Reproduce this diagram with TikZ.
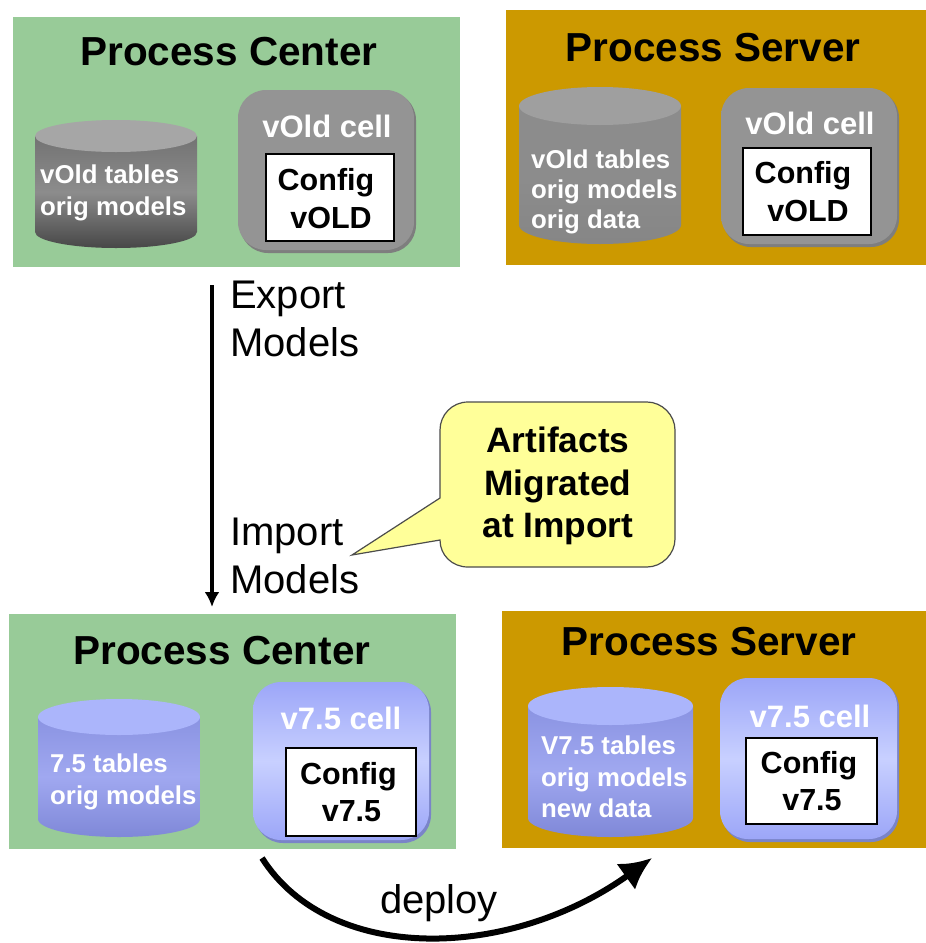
\documentclass[tikz,border=0pt]{standalone}
\usepackage{fontspec}
\setmainfont{Liberation Sans}
\usetikzlibrary{arrows.meta,calc}
\definecolor{pcgreen}{HTML}{98CB98}
\definecolor{psgold}{HTML}{CC9900}
\definecolor{noteyellow}{HTML}{FFFF99}
\definecolor{cellgrey}{HTML}{949494}
\definecolor{edgegrey}{HTML}{7E7E7E}
\definecolor{cellblueA}{HTML}{9CA6F8}
\definecolor{cellblueB}{HTML}{C8D0FF}
\definecolor{edgeblue}{HTML}{7A84C8}
\definecolor{lidblue}{HTML}{ABB5FB}
\definecolor{wallblueA}{HTML}{8A93E2}
\definecolor{wallblueB}{HTML}{A0A8F0}
\definecolor{wallblueC}{HTML}{7F88D8}
\newcommand{\bigbf}{\fontsize{40.5}{48}\selectfont\bfseries}
\newcommand{\plainlab}{\fontsize{40}{48}\selectfont}
\newcommand{\cellbf}{\fontsize{31}{38}\selectfont\bfseries}
\newcommand{\cfgbf}{\fontsize{30.5}{37.5}\selectfont\bfseries}
\newcommand{\cylbf}{\fontsize{25.8}{31.5}\selectfont\bfseries}
\newcommand{\notebf}{\fontsize{35.3}{42.5}\selectfont\bfseries}
\tikzset{
  x=1pt,y=-1pt,
  panel/.style={inner sep=0,outer sep=0},
  cfgbox/.style={fill=white,draw=black,line width=1.6pt,inner sep=0,outer sep=0},
  title/.style={font=\bigbf,text=black,inner sep=0},
  whitecell/.style={font=\cellbf,text=white,inner sep=0},
  cfgtext/.style={font=\cfgbf,text=black,align=center,inner sep=0},
  cyltext/.style={font=\cylbf,text=white,align=left,inner sep=0},
  lab/.style={font=\plainlab,text=black,align=left,inner sep=0,anchor=west},
}
% rectangle node from corners: name, style, x1,y1,x2,y2
\newcommand{\rectnode}[6]{%
  \pgfmathsetmacro{\rw}{#5-#3}\pgfmathsetmacro{\rh}{#6-#4}%
  \node[#2,minimum width=\rw pt,minimum height=\rh pt] (#1) at ({(#3+#5)/2},{(#4+#6)/2}) {};}
% cell: x1,y1,x2,y2, edge colour, top, middle, bottom
\newcommand{\cellshape}[8]{%
  \fill[#5,rounded corners=28pt] (#1+2,#2+2) rectangle (#3+2,#4+3);
  \shade[rounded corners=28pt,top color=#6,bottom color=#8,middle color=#7] (#1,#2) rectangle (#3,#4);}
% cylinder: x1, y of lid centre, x2, y of wall end, ry, lid, top, middle, bottom
\newcommand{\cylshape}[9]{%
  \pgfmathsetmacro{\rx}{(#3-#1)/2}%
  \shade[top color=#7,bottom color=#9,middle color=#8]
     (#1,#2) -- (#1,#4) arc[start angle=180,end angle=360,x radius=\rx pt,y radius=#5 pt]
     -- (#3,#2) -- cycle;
  \fill[#6] ({(#1+#3)/2},#2) ellipse[x radius=\rx pt,y radius=#5 pt];}
\begin{document}
\begin{tikzpicture}
\clip (0,0) rectangle (926,943);
\fill[white] (0,0) rectangle (926,943);
% panels
\rectnode{pc1}{panel,fill=pcgreen}{13}{17}{460}{267}
\rectnode{ps1}{panel,fill=psgold}{506}{10}{926}{265}
\rectnode{pc2}{panel,fill=pcgreen}{9}{614}{456}{849}
\rectnode{ps2}{panel,fill=psgold}{502}{611}{926}{848}
% titles
\node[title] (tpc1) at (229,52) {Process Center};
\node[title] (tps1) at (713,48) {Process Server};
\node[title] (tpc2) at (222,651) {Process Center};
\node[title] (tps2) at (709,642) {Process Server};
% cylinders
\cylshape{35}{136}{197}{232}{16}{gray!70!white}{gray!90!black}{gray!90!white}{black!72!white}
\cylshape{519}{106}{681}{225}{19}{gray!75!white}{gray!90!white}{gray!90!white}{gray!95!white}
\cylshape{38}{717}{200}{819}{18}{lidblue}{wallblueA}{wallblueB}{wallblueC}
\cylshape{528}{706}{693}{818}{19}{lidblue}{wallblueA}{wallblueB}{wallblueC}
% cells
\cellshape{238}{90}{414}{250}{edgegrey}{cellgrey}{cellgrey}{cellgrey}
\cellshape{721}{88}{897}{244}{edgegrey}{cellgrey}{cellgrey}{cellgrey}
\cellshape{253}{682}{429}{840}{edgeblue}{cellblueA}{cellblueB}{cellblueA}
\cellshape{720}{678}{897}{839}{edgeblue}{cellblueA}{cellblueB}{cellblueA}
% config boxes
\rectnode{cf1}{cfgbox}{266}{154}{394}{241}
\rectnode{cf2}{cfgbox}{743}{148}{871}{235}
\rectnode{cf3}{cfgbox}{286}{748}{416}{836}
\rectnode{cf4}{cfgbox}{746}{738}{877}{824}
\node[cfgtext] (cft1) at ($(cf1)+(-4,1)$) {Config\\\hspace*{10pt}vOLD};
\node[cfgtext] (cft2) at ($(cf2)+(-4,0)$) {Config\\\hspace*{10pt}vOLD};
\node[cfgtext] (cft3) at ($(cf3)+(-2.5,0)$) {Config\\\hspace*{6pt}v7.5};
\node[cfgtext] (cft4) at ($(cf4)+(-2.5,0)$) {Config\\\hspace*{6pt}v7.5};
% cell labels
\node[whitecell] (cl1) at (327,126) {vOld cell};
\node[whitecell] (cl2) at (810,123) {vOld cell};
\node[whitecell] (cl3) at (341,718) {v7.5 cell};
\node[whitecell] (cl4) at (810,716) {v7.5 cell};
% cylinder labels
\node[cyltext,anchor=west] (cyl1) at (40,193) {vOld tables\\orig models};
\node[cyltext,anchor=west] (cyl2) at (531,192) {vOld tables\\[-1.5pt]orig models\\[-1.5pt]orig data};
\node[cyltext,anchor=west] (cyl3) at (50,782) {7.5 tables\\orig models};
\node[cyltext,anchor=west] (cyl4) at (541,777) {V7.5 tables\\orig models\\new data};
% labels
\node[lab] (exportlab) at (230,319) {Export\\Models};
\node[lab] (importlab) at (230,556) {Import\\Models};
% callout
\coordinate (tip) at (352,555);
\path[fill=noteyellow,draw=black!70,line width=1.2pt]
  (468,402) -- (647,402) .. controls (662,402) and (675,415) .. (675,430)
  -- (675,539) .. controls (675,554) and (662,567) .. (647,567)
  -- (468,567) .. controls (452,567) and (440,555) .. (440,540)
  -- (tip) -- (440,498) -- (440,430) .. controls (440,415) and (452,402) .. (468,402) -- cycle;
\node[font=\notebf,text=black,align=center,inner sep=0] (note) at (558,486) {Artifacts\\Migrated\\at Import};
% main arrow
\coordinate (a1) at (212,285);
\coordinate (a2) at (212,607);
\draw[line width=3.6pt,-{Latex[length=15pt,width=15pt]}] (a1) -- (a2);
% deploy
\coordinate (d1) at (262,858);
\coordinate (d2) at (652,858);
\draw[line width=6pt,-{Latex[length=32pt,width=32pt]}] (d1) .. controls (330,965) and (510,960) .. (d2);
\node[font=\plainlab,text=black,inner sep=0] (deploy) at (439,903) {deploy};
\end{tikzpicture}
\end{document}
